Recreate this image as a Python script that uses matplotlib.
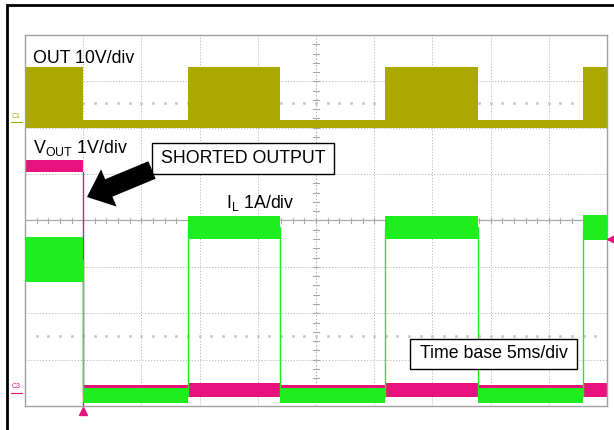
import matplotlib
matplotlib.use("Agg")
import matplotlib.pyplot as plt
from matplotlib.patches import Rectangle
import numpy as np

plt.rcParams['font.family'] = ['Liberation Sans', 'DejaVu Sans']
plt.rcParams['mathtext.fontset'] = 'custom'
plt.rcParams['mathtext.rm'] = 'Liberation Sans'
plt.rcParams['mathtext.it'] = 'Liberation Sans'

# ---- data (time in ms, amplitude in screen divisions from bottom) ----
edge_t = [0.0, 5.0, 14.0, 21.9, 30.9, 38.9, 47.9, 50.0]

out_top = [7.31, 6.17, 7.31, 6.17, 7.31, 6.17, 7.31, 7.31]
out_bot = [5.99, 5.99, 5.99, 5.99, 5.99, 5.99, 5.99, 5.99]

vout_top = [5.30, 0.46, 0.50, 0.46, 0.50, 0.46, 0.50, 0.50]
vout_bot = [5.05, 0.19, 0.19, 0.19, 0.19, 0.19, 0.19, 0.19]

il_top = [3.64, 0.39, 4.10, 0.39, 4.10, 0.39, 4.12, 4.12]
il_bot = [2.67, 0.06, 3.60, 0.06, 3.60, 0.06, 3.58, 3.58]

short_t = 5.0

YEL = '#ABA800'
MAG = '#E8127E'
GRN = '#1EEE1E'

fig = plt.figure(figsize=(6.14, 4.30), dpi=100)
ax = fig.add_axes([25/614, 24/430, 582/614, 371/430])
ax.set_xlim(0, 50)
ax.set_ylim(0, 8)
ax.set_xticks([]); ax.set_yticks([])
for s in ax.spines.values():
    s.set_color('#a0a0a0'); s.set_linewidth(1.0)

# grid
for gx in np.arange(5, 50, 5):
    if gx != 25:
        ax.axvline(gx, color='#b8b8b8', lw=0.7, ls=(0, (1.2, 1.8)), zorder=0)
for gy in range(1, 8):
    if gy != 4:
        ax.axhline(gy, color='#b8b8b8', lw=0.7, ls=(0, (1.2, 1.8)), zorder=0)
ax.axhline(4, color='#a8a8a8', lw=0.9, zorder=0)
ax.axvline(25, color='#b0b0b0', lw=0.8, ls=(0, (1.2, 1.8)), zorder=0)
for tx in np.arange(1, 50, 1.0):
    ax.plot([tx, tx], [3.95, 4.05], color='#a8a8a8', lw=0.8, zorder=0)
for ty in np.arange(0.2, 8, 0.2):
    ax.plot([24.7, 25.3], [ty, ty], color='#a8a8a8', lw=0.8, zorder=0)
# reference dot rows
dots = np.arange(1, 50, 1.0)
ax.plot(dots, [6.53]*len(dots), ls='none', marker='s', ms=1.1, color='#cccccc', zorder=0)
ax.plot(dots, [1.51]*len(dots), ls='none', marker='s', ms=1.1, color='#cccccc', zorder=0)

# traces
ax.fill_between(edge_t, out_bot, out_top, step='post', color=YEL, lw=0, zorder=2)
ax.fill_between(edge_t, vout_bot, vout_top, step='post', color=MAG, lw=0, zorder=2)
ax.plot([short_t, short_t], [0, vout_bot[0]], color='#9a3a78', lw=1.0, zorder=3)
ax.fill_between(edge_t, il_bot, il_top, step='post', color=GRN, lw=0, zorder=4)
il_mid = [(a + b) / 2 for a, b in zip(il_top, il_bot)]
ax.step(edge_t, il_mid, where='post', color=GRN, lw=1.0, zorder=4)

# markers
ax.plot([short_t], [-0.1], marker='^', ms=6, color=MAG, clip_on=False, zorder=5)
ax.plot([50.35], [3.6], marker='<', ms=6, color=MAG, clip_on=False, zorder=5)
ax.text(-0.75, 6.25, 'C1', fontsize=5, color=YEL, ha='center', va='center', rotation=0)
ax.plot([-1.2, -0.3], [6.12, 6.12], color=YEL, lw=0.8, clip_on=False)
ax.text(-0.75, 0.41, 'C3', fontsize=5, color=MAG, ha='center', va='center', rotation=0)
ax.plot([-1.2, -0.3], [0.28, 0.28], color=MAG, lw=0.8, clip_on=False)

# labels
fs = 12.8
ax.text(0.69, 7.40, 'OUT 10V/div', fontsize=fs, ha='left', va='baseline', zorder=6)
ax.text(0.69, 5.46, r'V$_{\mathregular{OUT}}$ 1V/div', fontsize=fs, ha='left', va='baseline', zorder=6)
ax.text(17.27, 4.27, r'I$_{\mathregular{L}}$ 1A/div', fontsize=fs, ha='left', va='baseline', zorder=6)

# SHORTED OUTPUT box
ax.add_patch(Rectangle(((152-25)/582*50, (406-174)/371*8), (334-152)/582*50, (174-143)/371*8,
                       facecolor='white', edgecolor='black', lw=1.0, zorder=6))
ax.text((243-25)/582*50, (406-158.5)/371*8, 'SHORTED OUTPUT', fontsize=fs, ha='center', va='center', zorder=7)

# Time base box
ax.add_patch(Rectangle(((410-25)/582*50, (406-369)/371*8), (577-410)/582*50, (369-339)/371*8,
                       facecolor='white', edgecolor='black', lw=1.0, zorder=6))
ax.text((493.5-25)/582*50, (406-354)/371*8, 'Time base 5ms/div', fontsize=fs, ha='center', va='center', zorder=7)

# arrow
ax.annotate('', xy=((87-25)/582*50, (406-197)/371*8), xytext=((152-25)/582*50, (406-170)/371*8),
            arrowprops=dict(arrowstyle='simple,head_length=0.85,head_width=1.45,tail_width=0.68',
                            mutation_scale=20, color='black', lw=0, shrinkA=0, shrinkB=0), zorder=8)

# outer black frame
fig.patches.append(Rectangle((7/614, -0.2), 1.0, 1.2 - 5/430, transform=fig.transFigure,
                             fill=False, edgecolor='black', lw=2.0, figure=fig))

fig.savefig('out.png', dpi=100)
